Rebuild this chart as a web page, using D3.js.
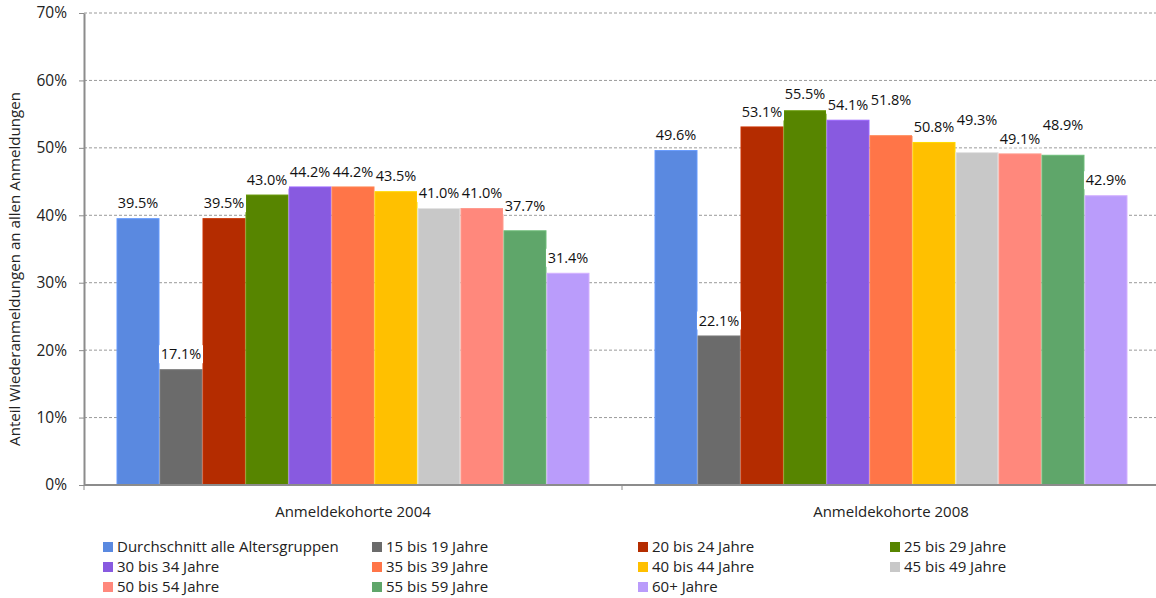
<!DOCTYPE html>
<html><head><meta charset="utf-8">
<script src="https://cdn.jsdelivr.net/npm/d3@7"></script>
<style>body{margin:0;background:#fff}svg{display:block}</style>
</head><body><svg id="c" width="1156" height="598"></svg>
<script>
const cohorts = ["Anmeldekohorte 2004", "Anmeldekohorte 2008"];
const groups = ["Durchschnitt alle Altersgruppen","15 bis 19 Jahre","20 bis 24 Jahre","25 bis 29 Jahre","30 bis 34 Jahre","35 bis 39 Jahre","40 bis 44 Jahre","45 bis 49 Jahre","50 bis 54 Jahre","55 bis 59 Jahre","60+ Jahre"];
const values2004 = [39.5, 17.1, 39.5, 43.0, 44.2, 44.2, 43.5, 41.0, 41.0, 37.7, 31.4];
const values2008 = [49.6, 22.1, 53.1, 55.5, 54.1, 51.8, 50.8, 49.3, 49.1, 48.9, 42.9];
const yTicks = [0, 10, 20, 30, 40, 50, 60, 70];
const colors = ["#5a89e0","#6b6b6b","#b42c00","#578500","#885ae0","#ff7548","#ffc000","#c8c8c8","#ff887c","#5fa66a","#ba9cfb"];
const yTitle = "Anteil Wiederanmeldungen an allen Anmeldungen";
// layout-only nudges (px) for label collision avoidance, as in the original
const labelLift = {"0|9": 10, "1|3": 2, "1|5": 20, "1|7": 17, "1|9": 15};

const series = [values2004, values2008];
const svg = d3.select("#c");
const mL = 84, mR = 1160, mT = 13, mB = 485;
const y = d3.scaleLinear().domain([0, 70]).range([mB, mT]);
const x0 = d3.scaleBand().domain(cohorts).range([mL, mR]).padding(0);
const x1 = d3.scaleBand().domain(groups).range([0, x0.bandwidth()]).paddingInner(0).paddingOuter(0.756);
const color = d3.scaleOrdinal().domain(groups).range(colors);
const font = "'Open Sans', 'DejaVu Sans', sans-serif";

// gridlines
svg.append("g").selectAll("line").data(yTicks.filter(d => d > 0)).join("line")
  .attr("x1", mL).attr("x2", 1156).attr("y1", d => y(d)).attr("y2", d => y(d))
  .attr("stroke", "#9a9a9a").attr("stroke-width", 1).attr("stroke-dasharray", "3,2");

// y axis
const yAxis = svg.append("g").attr("transform", `translate(${mL},0)`)
  .call(d3.axisLeft(y).tickValues(yTicks).tickFormat(d => d + "%").tickSize(5).tickSizeOuter(0));
yAxis.select(".domain").attr("stroke", "#8c8c8c").attr("stroke-width", 2);
yAxis.selectAll(".tick line").attr("stroke", "#8c8c8c");
yAxis.selectAll(".tick text").attr("font-family", font).attr("font-size", 15.5).attr("fill", "#222").attr("x", -17);

// bars
const gBars = svg.append("g");
cohorts.forEach((c, ci) => {
  const g = gBars.append("g").attr("transform", `translate(${x0(c)},0)`);
  const data = groups.map((k, i) => ({k, i, v: series[ci][i]}));
  g.selectAll("rect").data(data).join("rect")
    .attr("x", d => x1(d.k) + 0.5).attr("width", x1.bandwidth() - 1)
    .attr("y", d => y(d.v)).attr("height", d => y(0) - y(d.v))
    .attr("fill", d => color(d.k))
    .attr("stroke", d => d3.color(color(d.k)).brighter(0.35)).attr("stroke-width", 1);
  const lab = g.selectAll("g.lab").data(data).join("g").attr("class", "lab")
    .attr("transform", d => `translate(${x1(d.k) + x1.bandwidth() / 2},${y(d.v) - 15.5 - (labelLift[ci + "|" + d.i] || 0)})`);
  lab.append("rect").attr("x", -22).attr("y", -9).attr("width", 44).attr("height", 18).attr("fill", "#fff");
  lab.append("text").attr("text-anchor", "middle").attr("dy", "0.36em")
    .attr("font-family", font).attr("font-size", 14.5).attr("fill", "#111")
    .text(d => d.v.toFixed(1) + "%");
});

// x axis
const xAxis = svg.append("g").attr("transform", `translate(0,${mB})`);
xAxis.append("line").attr("x1", mL).attr("x2", 1156).attr("stroke", "#8c8c8c").attr("stroke-width", 2);
xAxis.selectAll("line.t").data(cohorts).join("line").attr("class", "t")
  .attr("x1", d => x0(d)).attr("x2", d => x0(d)).attr("y1", 0).attr("y2", 5).attr("stroke", "#8c8c8c");
xAxis.selectAll("text").data(cohorts).join("text")
  .attr("x", d => x0(d) + x0.bandwidth() / 2).attr("y", 32).attr("text-anchor", "middle")
  .attr("font-family", font).attr("font-size", 15).attr("fill", "#222").text(d => d);

// y title
svg.append("text").attr("transform", `translate(20,269) rotate(-90)`)
  .attr("text-anchor", "middle").attr("font-family", font).attr("font-size", 15.1).attr("fill", "#222").text(yTitle);

// legend
const colX = [103, 372, 638, 890];
const leg = svg.append("g").selectAll("g").data(groups).join("g")
  .attr("transform", (d, i) => `translate(${colX[i % 4]},${547 + Math.floor(i / 4) * 20})`);
leg.append("rect").attr("x", 0).attr("y", -5).attr("width", 10).attr("height", 10).attr("fill", d => color(d));
leg.append("text").attr("x", 14).attr("dy", "0.35em").attr("font-family", font).attr("font-size", 15).attr("fill", "#222").text(d => d);
</script></body></html>
